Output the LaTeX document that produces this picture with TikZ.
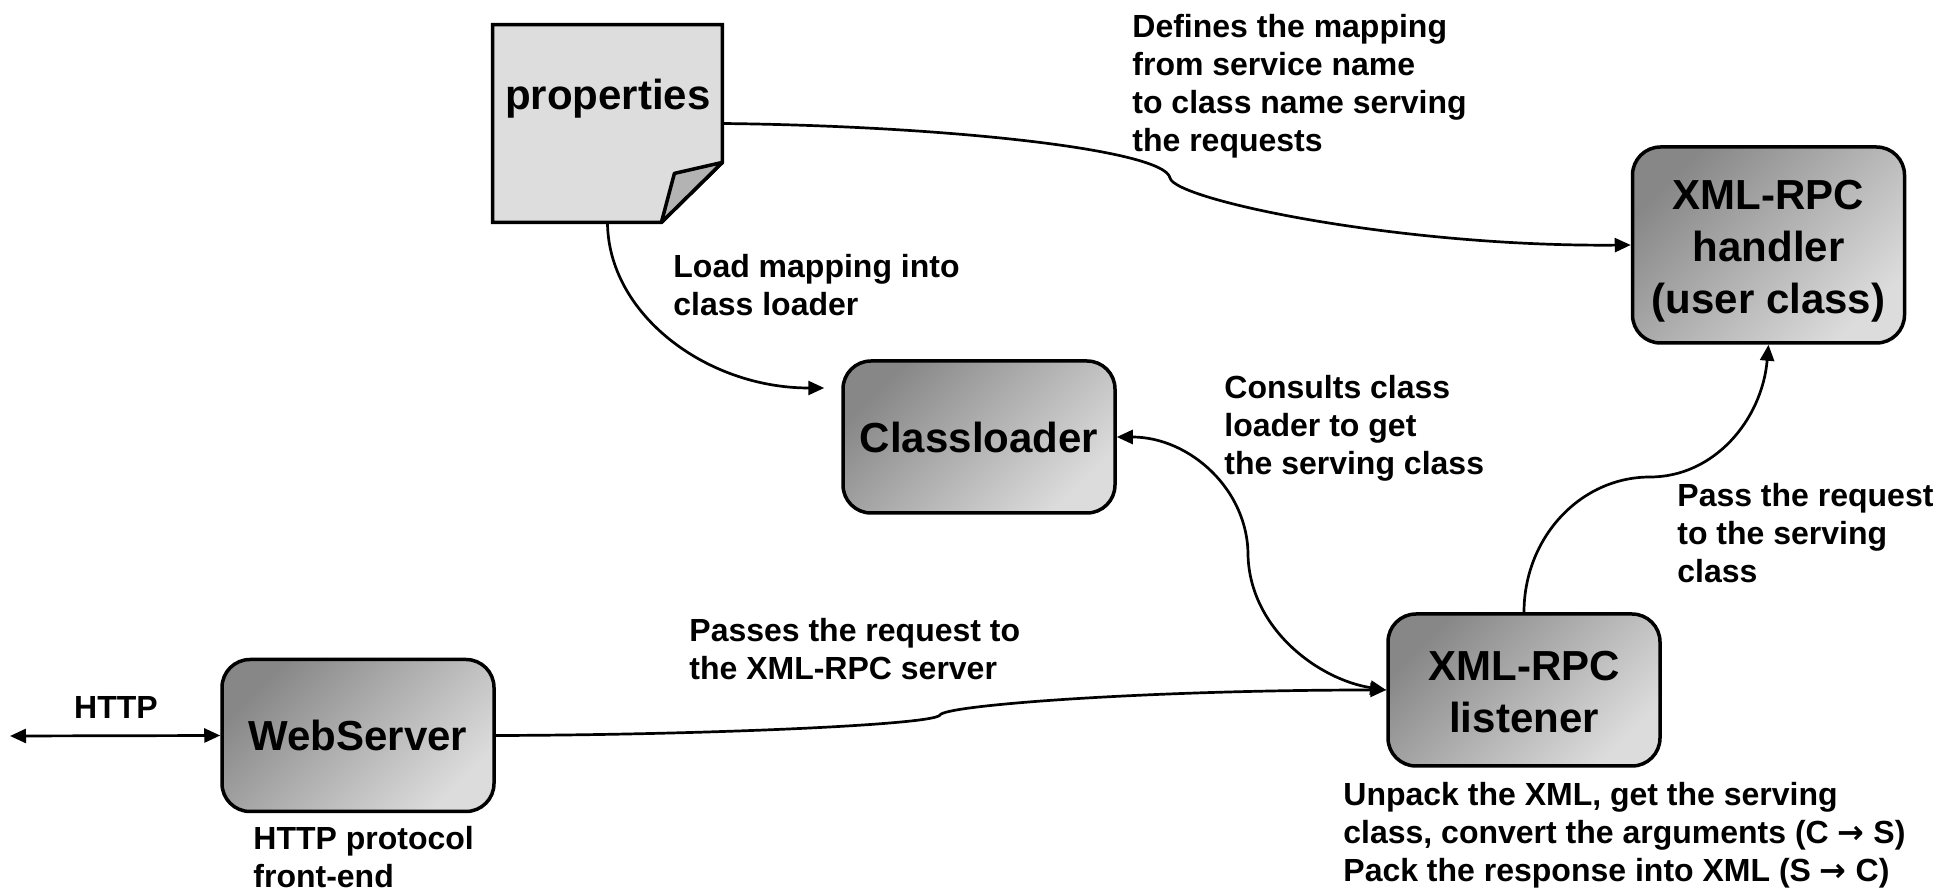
\documentclass[tikz,border=0pt]{standalone}
\usepackage{fontspec}
\setmainfont{Liberation Sans}
\newfontfamily\arrowfont{DejaVu Sans}
\usetikzlibrary{arrows.meta}
\definecolor{boxdark}{HTML}{878787}
\definecolor{boxlight}{HTML}{DCDCDC}
\definecolor{pagefill}{HTML}{DDDDDD}
\definecolor{foldfill}{HTML}{B3B3B3}
\newcommand{\rarr}{{\arrowfont\bfseries →}}
\begin{document}
\begin{tikzpicture}[x=0.5pt,y=-0.5pt,
  procbox/.style={draw=black, line width=1.75pt, rounded corners=14pt,
    top color=boxdark, bottom color=boxlight, shading angle=45,
    minimum width=136pt, minimum height=76pt, inner sep=0pt, align=center,
    font=\fontsize{21}{26}\selectfont\bfseries},
  boxtext/.style={inner sep=0pt, align=center, font=\fontsize{21}{26}\selectfont\bfseries},
  lbl/.style={anchor=west, align=left, inner sep=0pt,
    font=\fontsize{16}{19}\selectfont\bfseries},
  tip/.tip={Triangle[length=8pt,width=7pt]},
  conn/.style={line width=1.35pt, -tip},
]
\useasboundingbox (0,0) rectangle (1956,892);

% properties document
\node[minimum width=114.5pt, minimum height=98.5pt, inner sep=0pt] (props) at (607.5,123.5) {};
\draw[line width=1.75pt, fill=pagefill, line join=miter]
  (props.north west) -- (props.north east) -- ([yshift=30pt]props.south east)
  -- ([xshift=-30.5pt]props.south east) -- (props.south west) -- cycle;
\draw[line width=1.75pt, fill=foldfill, line join=round]
  ([yshift=30pt]props.south east) -- ([xshift=-24pt,yshift=24.5pt]props.south east)
  -- ([xshift=-30.5pt]props.south east) -- cycle;
\node[boxtext] (proplabel) at (608,99) {properties};

% process boxes
\node[procbox, minimum height=98pt] (handler) at (1768.5,245) {};
\node[boxtext] (handlertext) at (1768.5,251) {XML-RPC\\handler\\(user class)};
\node[procbox] (cl) at (979,437) {Classloader};
\node[procbox] (ws) at (358,735.5) {WebServer};
\node[procbox] (listener) at (1524,690) {};
\node[boxtext] (listenertext) at (1524,692) {XML-RPC\\listener};

% connectors
\draw[conn] (props.east) .. controls (950,126) and (1165,150) .. (1170,178)
  .. controls (1175,200) and (1400,247) .. (handler.west);
\draw[conn] (props.south) .. controls (608,314) and (706,388) .. ([xshift=-8.5pt,yshift=24.5pt]cl.west);
\draw[line width=1.35pt, tip-tip] (cl.east) .. controls (1190,437) and (1248,490) .. (1248,555)
  .. controls (1250,630) and (1320,680) .. (listener.west);
\draw[conn] (ws.east) .. controls (700,735) and (935,725) .. (940,715)
  .. controls (945,705) and (1150,690) .. (listener.west);
\draw[conn] (listener.north) .. controls (1524,538) and (1580,477) .. (1650,477)
  .. controls (1714,477) and (1762,420) .. (handler.south);
\coordinate (httpend) at (10,736);
\draw[line width=1.35pt, tip-tip] (httpend) -- (ws.west);

% labels
\node[lbl] (ldefines) at (1132,86) {Defines the mapping\\from service name\\to class name serving\\the requests};
\node[lbl] (lload) at (673,285) {Load mapping into\\class loader};
\node[lbl] (lconsult) at (1224,428) {Consults class\\loader to get\\the serving class};
\node[lbl] (lpass) at (1677,533) {Pass the request\\to the serving\\class};
\node[lbl] (lpasses) at (689,649) {Passes the request to\\the XML-RPC server};
\node[lbl] (lhttpfe) at (253,857) {HTTP protocol\\front-end};
\node[lbl] (lunpack) at (1343,835) {Unpack the XML, get the serving\\class, convert the arguments (C \rarr{} S)\\Pack the response into XML (S \rarr{} C)};
\node[inner sep=0pt, font=\fontsize{16}{19}\selectfont\bfseries] (lhttp) at (116,707) {HTTP};
\end{tikzpicture}
\end{document}
